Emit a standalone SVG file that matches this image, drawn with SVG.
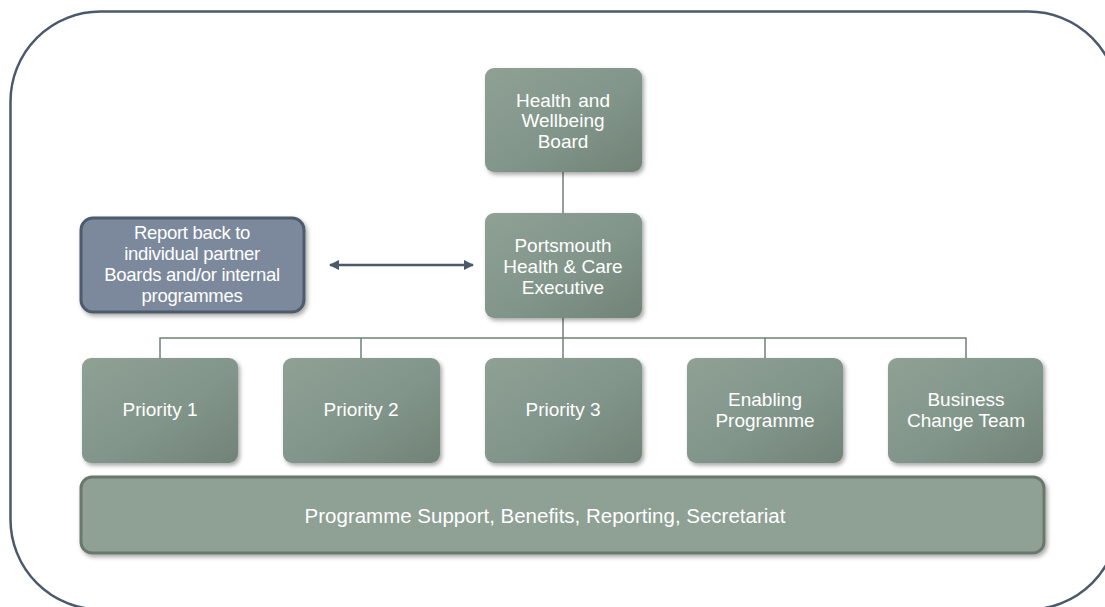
<svg xmlns="http://www.w3.org/2000/svg" width="1105" height="607" viewBox="0 0 1105 607">
<style>
.n{fill:url(#g);filter:url(#sh)}
.t{font-family:"Liberation Sans",Arial,sans-serif;font-size:19px;fill:#ffffff;text-anchor:middle}
.r{font-size:18.5px}
.c{stroke:#6f8176;stroke-width:1.5;fill:none}
</style>
<defs>
<linearGradient id="g" x1="0" y1="0" x2="1" y2="1">
<stop offset="0" stop-color="#8fa195"/>
<stop offset="0.55" stop-color="#82958a"/>
<stop offset="1" stop-color="#718377"/>
</linearGradient>
<filter id="sh" x="-10%" y="-10%" width="125%" height="130%">
<feDropShadow dx="2" dy="2.5" stdDeviation="2" flood-color="#000" flood-opacity="0.35"/>
</filter>
<marker id="ah" viewBox="0 0 10 10" refX="9" refY="5" markerWidth="4" markerHeight="4" orient="auto-start-reverse">
<path d="M0,0 L10,5 L0,10 z" fill="#4a5a6b"/>
</marker>
</defs>
<rect x="10.5" y="11.5" width="1108" height="598" rx="90" ry="90" fill="none" stroke="#4a5a6b" stroke-width="2.5"/>
<g id="connectors">
<line class="c" x1="563" y1="172" x2="563" y2="213"/>
<line class="c" x1="563" y1="318" x2="563" y2="338"/>
<polyline class="c" points="160,358 160,338 966,338 966,358"/>
<line class="c" x1="361" y1="338" x2="361" y2="358"/>
<line class="c" x1="563" y1="338" x2="563" y2="358"/>
<line class="c" x1="765" y1="338" x2="765" y2="358"/>
<line x1="330" y1="265" x2="473" y2="265" stroke="#4a5a6b" stroke-width="2.5" marker-start="url(#ah)" marker-end="url(#ah)"/>
</g>
<g id="hwb">
<rect class="n" x="485" y="68" width="157" height="104" rx="9"/>
<text class="t" x="563" y="107" word-spacing="2">Health and</text>
<text class="t" x="563" y="127">Wellbeing</text>
<text class="t" x="563" y="148">Board</text>
</g>
<g id="phce">
<rect class="n" x="485" y="213" width="157" height="105" rx="9"/>
<text class="t" x="563" y="252">Portsmouth</text>
<text class="t" x="563" y="273">Health &amp; Care</text>
<text class="t" x="563" y="294">Executive</text>
</g>
<g id="report">
<rect x="81" y="218" width="223" height="94" rx="12" fill="#7b899c" stroke="#4d5b6b" stroke-width="3" filter="url(#sh)"/>
<text class="t r" x="192" y="239" letter-spacing="-0.3">Report back to</text>
<text class="t r" x="192" y="260" letter-spacing="-0.3">individual partner</text>
<text class="t r" x="192" y="281" letter-spacing="-0.3">Boards and/or internal</text>
<text class="t r" x="192" y="302" letter-spacing="-0.3">programmes</text>
</g>
<g id="p1">
<rect class="n" x="82" y="358" width="156" height="105" rx="9"/>
<text class="t" x="160" y="416">Priority 1</text>
</g>
<g id="p2">
<rect class="n" x="283" y="358" width="157" height="105" rx="9"/>
<text class="t" x="361" y="416">Priority 2</text>
</g>
<g id="p3">
<rect class="n" x="485" y="358" width="157" height="105" rx="9"/>
<text class="t" x="563" y="416">Priority 3</text>
</g>
<g id="enabling">
<rect class="n" x="687" y="358" width="156" height="105" rx="9"/>
<text class="t" x="765" y="406">Enabling</text>
<text class="t" x="765" y="427">Programme</text>
</g>
<g id="business">
<rect class="n" x="888" y="358" width="155" height="105" rx="9"/>
<text class="t" x="966" y="406">Business</text>
<text class="t" x="966" y="427">Change Team</text>
</g>
<g id="support">
<rect x="81" y="477" width="963" height="76" rx="11" fill="#8fa095" stroke="#68786c" stroke-width="3" filter="url(#sh)"/>
<text class="t" x="545" y="523" style="font-size:20.5px">Programme Support, Benefits, Reporting, Secretariat</text>
</g>
</svg>
